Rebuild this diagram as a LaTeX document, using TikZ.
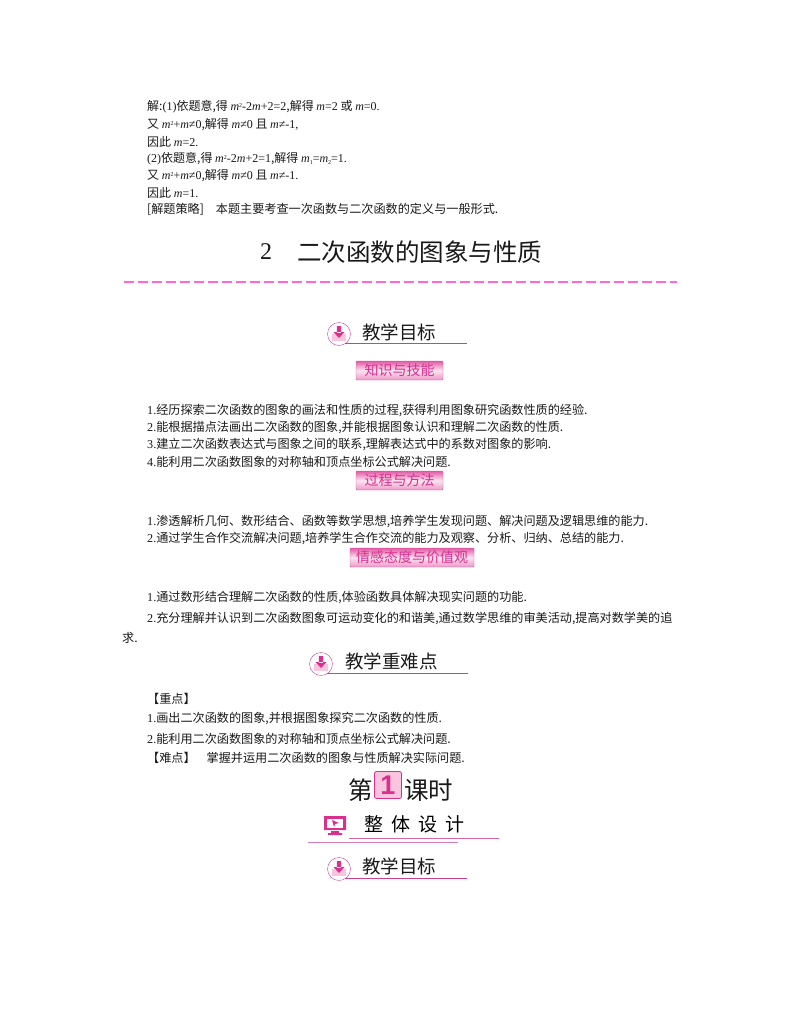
\documentclass[tikz,border=0pt]{standalone}
\usepackage{fontspec}
\setmainfont{Liberation Serif}
\newfontfamily\cjk{Noto Sans CJK SC}
\newfontfamily\digitsans{Liberation Sans}
\definecolor{rosered}{HTML}{D9308F}
\definecolor{roseline}{HTML}{C8409A}
\definecolor{rosepale}{HTML}{F9C4DE}
\definecolor{dashpink}{HTML}{FF66DD}
\newcommand{\la}[1]{{\rmfamily #1}}
\newcommand{\mi}[1]{{\rmfamily\itshape #1}}
\newcommand{\ups}[1]{\raisebox{0.45ex}{\rmfamily\fontsize{6}{6}\selectfont #1}}
\newcommand{\dns}[1]{\raisebox{-0.2ex}{\rmfamily\fontsize{6}{6}\selectfont #1}}
\tikzset{
  body/.style={anchor=west,inner sep=0pt,yshift=-1pt,font=\cjk\fontsize{12.13}{14}\selectfont,text=black!90},
  solution/.style={body,font=\cjk\fontsize{12}{14}\selectfont},
  headtext/.style={anchor=west,inner sep=0pt,font=\cjk\fontsize{18.5}{20}\selectfont,text=black!90},
  bigtext/.style={anchor=west,inner sep=0pt,font=\cjk\fontsize{24.5}{28}\selectfont,text=black!90},
  badge/.style={draw=rosered!85,rounded corners=1pt,inner sep=0pt,
    font=\cjk\fontsize{14}{15}\selectfont,text=rosered,minimum height=19pt,
    top color=rosered!80,bottom color=rosered!50,middle color=rosepale!45},
  headline/.style={draw=roseline,line width=1pt},
  goalicon/.pic={
    \fill[rosepale] (-7,0) rectangle (7,7);
    \draw[roseline] (0,0) circle (11.5);
    \fill[rosered] (-2.2,-8) rectangle (2.2,-1) (-5.5,-2) -- (5.5,-2) -- (0,4) -- cycle;
  }
}
\begin{document}
\begin{tikzpicture}[x=1pt,y=-1pt]
  \useasboundingbox (0,0) rectangle (800,1028);
  %solution
  \node[solution] (sol1) at (147,106) {解:\la{(1)}依题意,得 \mi{m}\ups{2}\la{-2}\mi{m}\la{+2=2},解得 \mi{m}\la{=2} 或 \mi{m}\la{=0.}};
  \node[solution] (sol2) at (147,124) {又 \mi{m}\ups{2}\la{+}\mi{m}\la{≠0},解得 \mi{m}\la{≠0} 且 \mi{m}\la{≠-1,}};
  \node[solution] (sol3) at (147,141) {因此 \mi{m}\la{=2.}};
  \node[solution] (sol4) at (147,158) {\la{(2)}依题意,得 \mi{m}\ups{2}\la{-2}\mi{m}\la{+2=1},解得 \mi{m}\dns{1}\la{=}\mi{m}\dns{2}\la{=1.}};
  \node[solution] (sol5) at (147,175) {又 \mi{m}\ups{2}\la{+}\mi{m}\la{≠0},解得 \mi{m}\la{≠0} 且 \mi{m}\la{≠-1.}};
  \node[solution] (sol6) at (147,192) {因此 \mi{m}\la{=1.}};
  \node[body] (sol7) at (147,208) {[解题策略]\hspace{12pt}本题主要考查一次函数与二次函数的定义与一般形式.};
  %title
  \node[bigtext,font=\fontsize{24}{28}\selectfont] (titlenum) at (260,252) {2};
  \node[bigtext] (title) at (297,252) {二次函数的图象与性质};
  \draw[dashpink,line width=1.2pt,dash pattern=on 9.5pt off 4.5pt] (124,282) -- (677,282);
  %goals
  \pic at (339,334) {goalicon};
  \node[headtext] (goal1) at (362,332) {教学目标};
  \draw[headline] (345,343) -- (467,343);
  \node[badge,minimum width=87pt] (skill) at (399.5,370.5) {知识与技能};
  \node[body] (sk1) at (147,410) {\la{1.}经历探索二次函数的图象的画法和性质的过程,获得利用图象研究函数性质的经验.};
  \node[body] (sk2) at (147,427) {\la{2.}能根据描点法画出二次函数的图象,并能根据图象认识和理解二次函数的性质.};
  \node[body] (sk3) at (147,444) {\la{3.}建立二次函数表达式与图象之间的联系,理解表达式中的系数对图象的影响.};
  \node[body] (sk4) at (147,461) {\la{4.}能利用二次函数图象的对称轴和顶点坐标公式解决问题.};
  \node[badge,minimum width=87pt] (method) at (399.5,480.5) {过程与方法};
  \node[body] (me1) at (147,520) {\la{1.}渗透解析几何、数形结合、函数等数学思想,培养学生发现问题、解决问题及逻辑思维的能力.};
  \node[body] (me2) at (147,537) {\la{2.}通过学生合作交流解决问题,培养学生合作交流的能力及观察、分析、归纳、总结的能力.};
  \node[badge,minimum width=124pt] (value) at (412,557.5) {情感态度与价值观};
  \node[body] (va1) at (147,597) {\la{1.}通过数形结合理解二次函数的性质,体验函数具体解决现实问题的功能.};
  \node[body] (va2) at (147,617) {\la{2.}充分理解并认识到二次函数图象可运动变化的和谐美,通过数学思维的审美活动,提高对数学美的追};
  \node[body] (va3) at (122,637) {求.};
  %key points
  \pic at (321,664) {goalicon};
  \node[headtext] (keyhead) at (345,661) {教学重难点};
  \draw[headline] (327,673) -- (468,673);
  \node[body] (key0) at (147,698) {【重点】};
  \node[body] (key1) at (147,718) {\la{1.}画出二次函数的图象,并根据图象探究二次函数的性质.};
  \node[body] (key2) at (147,738) {\la{2.}能利用二次函数图象的对称轴和顶点坐标公式解决问题.};
  \node[body] (key3) at (147,757) {【难点】\hspace{11pt}掌握并运用二次函数的图象与性质解决实际问题.};
  %lesson
  \node[bigtext] (di) at (348,790) {第};
  \node[draw=rosered,fill=rosepale,rounded corners=2pt,line width=0.8pt,inner sep=0pt,
    minimum width=27pt,minimum height=27pt,text=rosered,font=\digitsans\bfseries\fontsize{27}{28}\selectfont] (one) at (388,785) {1};
  \node[bigtext] (keshi) at (404,790) {课时};
  %overall design
  \fill[rosered] (324,816) rectangle (346,830) (331,831) rectangle (339,833) (328,833) rectangle (342,835);
  \fill[white] (327,819) rectangle (343,828);
  \fill[rosered] (332,820) -- (339,823) -- (335,824) -- (334,827) -- cycle;
  \node[headtext,font=\cjk\fontsize{19}{21}\selectfont,text=black] (design) at (364,824) {整\hspace{8pt}体\hspace{8pt}设\hspace{8pt}计};
  \draw[roseline!80,line width=0.7pt] (349,838) -- (499,838);
  \draw[roseline!70,line width=0.7pt] (308,842) -- (458,842);
  \pic at (339,869) {goalicon};
  \node[headtext] (goal2) at (362,866) {教学目标};
  \draw[headline] (345,878) -- (467,878);
\end{tikzpicture}
\end{document}
